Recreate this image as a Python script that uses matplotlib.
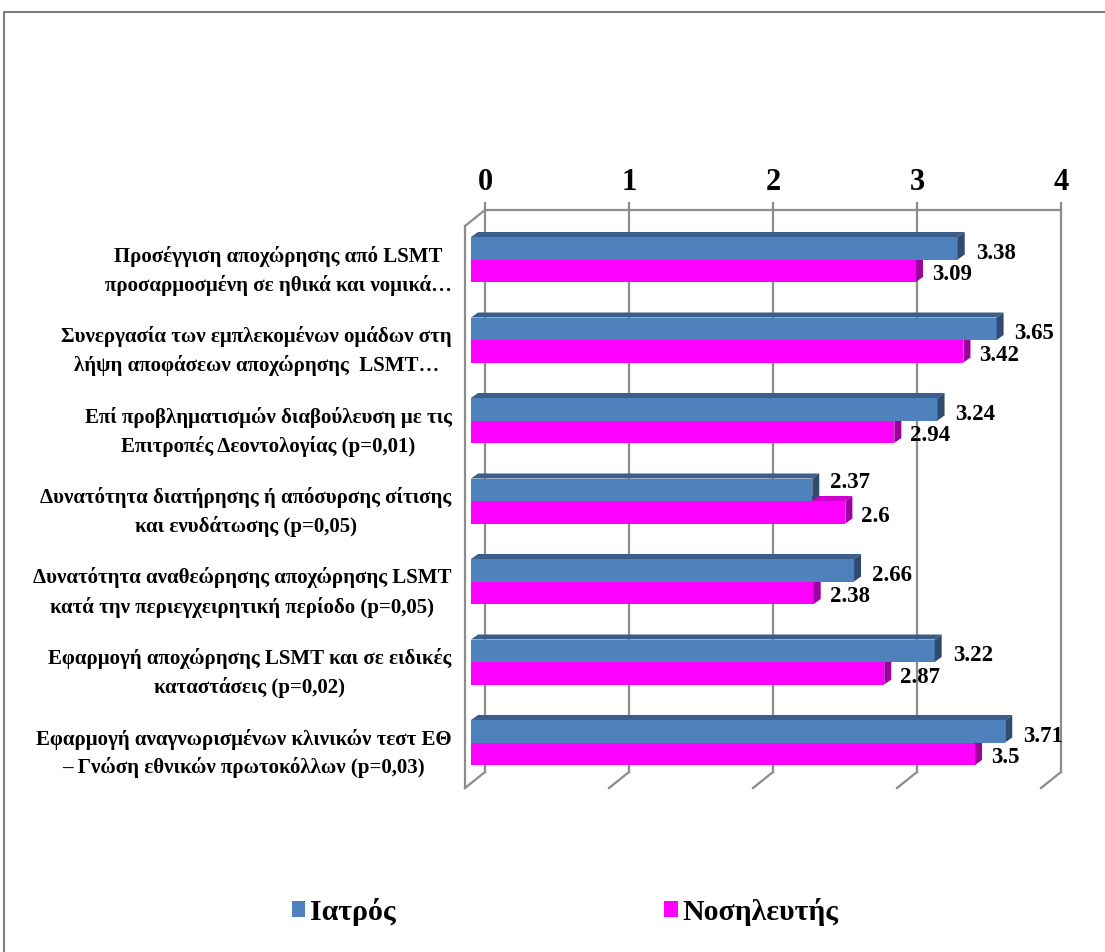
import numpy as np
import matplotlib
matplotlib.use("Agg")
import matplotlib.pyplot as plt
from matplotlib.patches import Polygon, Patch, Rectangle
from matplotlib.lines import Line2D
from matplotlib.font_manager import FontProperties
from matplotlib.transforms import ScaledTranslation, IdentityTransform

# ---------------- data ----------------
categories = [
    "Προσέγγιση αποχώρησης από LSMT\nπροσαρμοσμένη σε ηθικά και νομικά…",
    "Συνεργασία των εμπλεκομένων ομάδων στη\nλήψη αποφάσεων αποχώρησης  LSMT…",
    "Επί προβληματισμών διαβούλευση με τις\nΕπιτροπές Δεοντολογίας (p=0,01)",
    "Δυνατότητα διατήρησης ή απόσυρσης σίτισης\nκαι ενυδάτωσης (p=0,05)",
    "Δυνατότητα αναθεώρησης αποχώρησης LSMT\nκατά την περιεγχειρητική περίοδο (p=0,05)",
    "Εφαρμογή αποχώρησης LSMT και σε ειδικές\nκαταστάσεις (p=0,02)",
    "Εφαρμογή αναγνωρισμένων κλινικών τεστ ΕΘ\n– Γνώση εθνικών πρωτοκόλλων (p=0,03)",
]
iatros = [3.38, 3.65, 3.24, 2.37, 2.66, 3.22, 3.71]
nosileftis = [3.09, 3.42, 2.94, 2.6, 2.38, 2.87, 3.5]
series_names = ["Ιατρός", "Νοσηλευτής"]
xticks = [0, 1, 2, 3, 4]

# ---------------- style ----------------
FONT = "Liberation Serif"
BLUE, BLUE_TOP, BLUE_SIDE = "#4F81BD", "#3C5E8C", "#2F4B72"
PINK, PINK_TOP, PINK_SIDE = "#FF00FF", "#D000D0", "#9E009E"
GRID = "#8C8C8C"

W, H, DPI = 1105, 952, 100
fig = plt.figure(figsize=(W / DPI, H / DPI), dpi=DPI)
fig.patch.set_facecolor("white")

# layout in pixels (bar front plane)
AX_L, AX_R, AX_T, AX_B = 471, 1047, 221, 783
C0, PITCH, BAR_PX = 259.5, 80.5, 22.5
ax = fig.add_axes([AX_L / W, 1 - AX_B / H, (AX_R - AX_L) / W, (AX_B - AX_T) / H])
ax.set_xlim(0, 4)
ylo, yhi = (AX_B - C0) / PITCH, (AX_T - C0) / PITCH
ax.set_ylim(ylo, yhi)
ax.set_autoscale_on(False)
for s in ax.spines.values():
    s.set_visible(False)
ax.patch.set_visible(False)

h = BAR_PX / PITCH
ypos = np.arange(len(categories))

BAR_D = np.array([7.0, 5.0])     # depth of bars (display px)
BACK = np.array([14.0, 11.0])    # back wall offset
FRONT = np.array([-6.0, -5.0])   # front of wall (floor edge)


def off(dx, dy):
    return ax.transData + ScaledTranslation(dx / DPI, dy / DPI, fig.dpi_scale_trans)


def disp(x, y, o=(0, 0)):
    return ax.transData.transform((x, y)) + np.asarray(o)


def poly(pts, color, z):
    p = Polygon(pts, closed=True, facecolor=color, edgecolor="none",
                transform=IdentityTransform(), zorder=z, clip_on=False)
    ax.add_artist(p)


def line(p1, p2, z=0.5):
    l = Line2D([p1[0], p2[0]], [p1[1], p2[1]], color=GRID, lw=1.6,
               transform=IdentityTransform(), zorder=z, clip_on=False)
    ax.add_artist(l)


# ----- walls / grid -----
ext = 7.0 / PITCH
for k in xticks:
    ax.plot([k, k], [ylo, yhi - ext], color=GRID, lw=1.6, transform=off(*BACK),
            zorder=0.5, clip_on=False)
    line(disp(k, ylo, BACK), disp(k, ylo, FRONT))
ax.plot([0, 4], [yhi, yhi], color=GRID, lw=1.6, transform=off(*BACK), zorder=0.5, clip_on=False)
line(disp(0, yhi, BACK), disp(0, yhi, FRONT))
ax.plot([0, 0], [ylo, yhi], color=GRID, lw=1.6, transform=off(*FRONT), zorder=0.5, clip_on=False)


# ----- bars (3D faces) -----
def bar3d(y, v, top, side, zbase):
    yt, yb = y - h / 2, y + h / 2  # yt is upper edge (axis inverted)
    a, b = disp(0, yt), disp(v, yt)
    poly([a, b, b + BAR_D, a + BAR_D], top, zbase)
    c, d = disp(v, yt), disp(v, yb)
    poly([c, d, d + BAR_D, c + BAR_D], side, zbase + 0.6)


yb_pos = ypos - h / 2
yp_pos = ypos + h / 2
for i in range(len(categories)):
    bar3d(yp_pos[i], nosileftis[i], PINK_TOP, PINK_SIDE, 2)
    bar3d(yb_pos[i], iatros[i], BLUE_TOP, BLUE_SIDE, 4)

bp = ax.barh(yp_pos, nosileftis, height=h, color=PINK, zorder=2.5)
bb = ax.barh(yb_pos, iatros, height=h, color=BLUE, zorder=4.5)
for r in list(bp) + list(bb):
    r.set_clip_on(False)

# value labels
for i in range(len(categories)):
    lift = 7 if nosileftis[i] > iatros[i] else -5
    ax.annotate(f"{iatros[i]:g}", (iatros[i], yb_pos[i]), xytext=(18, lift),
                textcoords="offset pixels", ha="left", va="center",
                fontsize=16.5, fontweight="bold", family=FONT, zorder=10, annotation_clip=False)
    ax.annotate(f"{nosileftis[i]:g}", (nosileftis[i], yp_pos[i]), xytext=(16, -4),
                textcoords="offset pixels", ha="left", va="center",
                fontsize=16.5, fontweight="bold", family=FONT, zorder=10, annotation_clip=False)

# axis tick labels
ax.xaxis.tick_top()
ax.set_xticks(xticks)
ax.set_xticklabels([str(t) for t in xticks], fontsize=22, fontweight="bold", family=FONT)
ax.tick_params(axis="x", length=0, pad=9)
for lab in ax.get_xticklabels():
    lab.set_transform(lab.get_transform() + ScaledTranslation(BACK[0] / DPI, BACK[1] / DPI, fig.dpi_scale_trans))

ax.set_yticks(ypos)
ax.set_yticklabels(categories, fontsize=15, fontweight="bold", family=FONT, linespacing=1.5)
ax.tick_params(axis="y", length=0, pad=14)
for lab in ax.get_yticklabels():
    lab.set_multialignment("center")
    lab.set_transform(lab.get_transform() + ScaledTranslation(0, -4.5 / DPI, fig.dpi_scale_trans))

# legend
handles = [Patch(facecolor=BLUE, edgecolor="none"), Patch(facecolor=PINK, edgecolor="none")]
legfont = FontProperties(family=FONT, weight="bold", size=21.5)
fig.legend(handles, series_names, loc="center", bbox_to_anchor=(565 / W, 1 - 912 / H),
           ncol=2, frameon=False, prop=legfont,
           handlelength=0.45, handleheight=0.45, handletextpad=0.15, columnspacing=9.0)

# outer border
fig.add_artist(Rectangle((4 / W, -0.1), 1.2, 1.1 - 12 / H, transform=fig.transFigure,
                         fill=False, edgecolor="#808080", lw=1.5, clip_on=False))

fig.savefig("out.png", dpi=DPI)
